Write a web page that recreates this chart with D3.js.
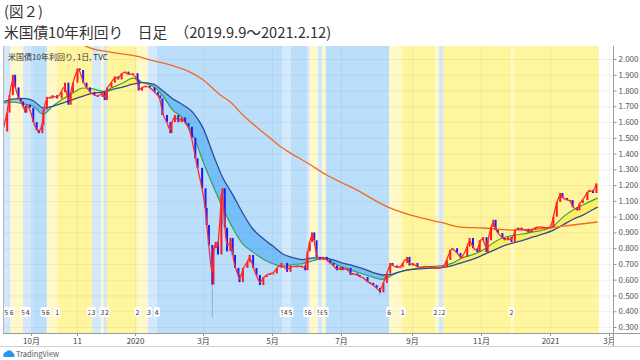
<!DOCTYPE html>
<html>
<head>
<meta charset="utf-8">
<script src="https://cdn.jsdelivr.net/npm/d3@7"></script>
<style>
body{margin:0;background:#fff}
svg{display:block}
text{font-family:"Noto Sans CJK JP","Noto Sans",sans-serif}
</style>
</head>
<body>
<script>
// daily closes (date, yield %)
const closes = [
 ["2019-09-06",1.54],["2019-09-10",1.66],["2019-09-12",1.77],["2019-09-15",1.90],["2019-09-17",1.82],["2019-09-20",1.75],
 ["2019-09-22",1.73],["2019-09-24",1.70],["2019-09-26",1.66],["2019-09-27",1.71],["2019-09-30",1.69],["2019-10-03",1.60],
 ["2019-10-06",1.55],["2019-10-08",1.53],["2019-10-11",1.58],["2019-10-12",1.68],["2019-10-15",1.76],["2019-10-18",1.75],
 ["2019-10-20",1.77],["2019-10-24",1.75],["2019-10-28",1.79],["2019-10-31",1.85],["2019-11-03",1.71],["2019-11-05",1.79],
 ["2019-11-07",1.85],["2019-11-11",1.94],["2019-11-13",1.93],["2019-11-16",1.85],["2019-11-19",1.82],["2019-11-22",1.79],
 ["2019-11-26",1.77],["2019-11-29",1.76],["2019-12-03",1.79],["2019-12-05",1.74],["2019-12-07",1.82],["2019-12-11",1.85],
 ["2019-12-14",1.89],["2019-12-17",1.87],["2019-12-20",1.91],["2019-12-23",1.92],["2019-12-26",1.90],["2019-12-30",1.91],
 ["2020-01-03",1.87],["2020-01-04",1.80],["2020-01-07",1.82],["2020-01-10",1.83],["2020-01-14",1.82],["2020-01-18",1.79],
 ["2020-01-21",1.77],["2020-01-23",1.75],["2020-01-25",1.645],["2020-01-29",1.60],["2020-02-01",1.53],["2020-02-02",1.60],
 ["2020-02-05",1.645],["2020-02-08",1.60],["2020-02-11",1.63],["2020-02-14",1.594],["2020-02-17",1.57],["2020-02-20",1.50],
 ["2020-02-23",1.37],["2020-02-25",1.31],["2020-02-29",1.18],["2020-03-03",1.055],["2020-03-04",0.947],["2020-03-06",0.82],
 ["2020-03-09",0.57],["2020-03-10",0.80],["2020-03-12",0.84],["2020-03-14",0.76],["2020-03-17",1.14],["2020-03-18",1.18],
 ["2020-03-20",0.93],["2020-03-22",0.78],["2020-03-25",0.865],["2020-03-27",0.757],["2020-03-29",0.675],["2020-04-01",0.63],
 ["2020-04-02",0.585],["2020-04-05",0.675],["2020-04-09",0.71],["2020-04-11",0.757],["2020-04-14",0.675],["2020-04-17",0.63],
 ["2020-04-20",0.566],["2020-04-23",0.617],["2020-04-26",0.63],["2020-04-29",0.64],["2020-05-02",0.64],["2020-05-05",0.675],
 ["2020-05-09",0.706],["2020-05-14",0.65],["2020-05-17",0.69],["2020-05-23",0.68],["2020-05-27",0.69],["2020-05-30",0.66],
 ["2020-06-01",0.78],["2020-06-03",0.84],["2020-06-05",0.90],["2020-06-07",0.85],["2020-06-09",0.745],["2020-06-12",0.725],
 ["2020-06-15",0.745],["2020-06-18",0.725],["2020-06-21",0.706],["2020-06-24",0.69],["2020-06-27",0.66],["2020-06-30",0.68],
 ["2020-07-02",0.66],["2020-07-06",0.675],["2020-07-09",0.63],["2020-07-11",0.64],["2020-07-15",0.63],["2020-07-17",0.617],
 ["2020-07-20",0.617],["2020-07-24",0.585],["2020-07-26",0.58],["2020-07-29",0.566],["2020-08-01",0.547],["2020-08-04",0.52],
 ["2020-08-07",0.58],["2020-08-10",0.64],["2020-08-13",0.706],["2020-08-15",0.69],["2020-08-19",0.675],["2020-08-22",0.68],
 ["2020-08-24",0.706],["2020-08-28",0.745],["2020-08-30",0.69],["2020-09-02",0.706],["2020-09-06",0.68],["2020-09-08",0.68],
 ["2020-09-11",0.68],["2020-09-14",0.687],["2020-09-17",0.68],["2020-09-20",0.675],["2020-09-23",0.675],["2020-09-26",0.675],
 ["2020-09-29",0.68],["2020-10-02",0.725],["2020-10-05",0.79],["2020-10-07",0.80],["2020-10-11",0.77],["2020-10-14",0.74],
 ["2020-10-16",0.745],["2020-10-20",0.81],["2020-10-22",0.865],["2020-10-25",0.80],["2020-10-29",0.776],["2020-10-31",0.85],
 ["2020-11-03",0.87],["2020-11-06",0.776],["2020-11-07",0.85],["2020-11-10",0.934],["2020-11-12",0.98],["2020-11-14",0.915],
 ["2020-11-16",0.896],["2020-11-20",0.865],["2020-11-22",0.85],["2020-11-25",0.87],["2020-11-28",0.84],["2020-12-01",0.915],
 ["2020-12-04",0.93],["2020-12-07",0.915],["2020-12-10",0.92],["2020-12-13",0.90],["2020-12-16",0.915],["2020-12-19",0.93],
 ["2020-12-21",0.934],["2020-12-25",0.934],["2020-12-28",0.93],["2020-12-30",0.93],["2021-01-02",0.934],["2021-01-04",1.00],
 ["2021-01-07",1.093],["2021-01-10",1.15],["2021-01-12",1.118],["2021-01-16",1.105],["2021-01-19",1.105],["2021-01-21",1.06],
 ["2021-01-25",1.04],["2021-01-27",1.086],["2021-01-30",1.105],["2021-02-03",1.157],["2021-02-05",1.17],["2021-02-08",1.15],
 ["2021-02-11",1.21]
];

// a few long wicks (date, high, low)
const wicks = [["2020-03-09",0.80,0.36],["2020-03-18",1.19,0.95],["2020-08-04",0.56,0.50]];

// moving averages (shared dates)
const maDates = ["2019-09-06","2019-09-15","2019-09-24","2019-10-03","2019-10-12","2019-10-20","2019-10-29","2019-11-07",
 "2019-11-16","2019-11-25","2019-12-04","2019-12-12","2019-12-21","2019-12-30","2020-01-08","2020-01-17","2020-01-25",
 "2020-02-03","2020-02-12","2020-02-21","2020-03-01","2020-03-10","2020-03-18","2020-03-27","2020-04-05","2020-04-14",
 "2020-04-23","2020-05-02","2020-05-10","2020-05-19","2020-05-28","2020-06-06","2020-06-15","2020-06-24","2020-07-02",
 "2020-07-11","2020-07-20","2020-07-29","2020-08-07","2020-08-15","2020-08-24","2020-09-02","2020-09-11","2020-09-20",
 "2020-09-29","2020-10-07","2020-10-16","2020-10-25","2020-11-03","2020-11-12","2020-11-21","2020-11-29","2020-12-08",
 "2020-12-17","2020-12-26","2021-01-04","2021-01-13","2021-01-21","2021-01-30","2021-02-08","2021-02-12"];
const greenMA = [1.72,1.727,1.715,1.70,1.65,1.70,1.745,1.785,1.816,1.81,1.795,1.82,1.848,1.879,1.85,1.825,1.77,
 1.676,1.625,1.518,1.347,1.19,1.06,0.928,0.825,0.775,0.73,0.70,0.685,0.695,0.703,0.72,0.735,0.706,0.68,
 0.656,0.636,0.615,0.602,0.63,0.655,0.668,0.678,0.685,0.69,0.705,0.74,0.76,0.788,0.835,0.868,0.88,0.89,
 0.903,0.915,0.94,1.0,1.04,1.074,1.105,1.118];
const navyMA = [1.727,1.745,1.75,1.735,1.69,1.70,1.72,1.742,1.765,1.784,1.79,1.807,1.822,1.84,1.85,1.84,1.80,
 1.748,1.71,1.66,1.56,1.39,1.25,1.14,1.02,0.92,0.86,0.81,0.765,0.74,0.728,0.738,0.738,0.725,0.705,
 0.69,0.67,0.645,0.63,0.636,0.655,0.665,0.67,0.674,0.679,0.69,0.71,0.73,0.757,0.786,0.815,0.832,0.85,
 0.871,0.89,0.915,0.95,0.982,1.01,1.045,1.061];

// long moving average (orange)
const longMA = [["2019-11-13",2.10],["2019-11-22",2.07],["2019-12-10",2.044],["2020-01-05",2.013],["2020-01-14",1.994],
 ["2020-02-01",1.962],["2020-02-18",1.918],["2020-03-01",1.867],["2020-03-16",1.772],["2020-03-25",1.727],["2020-04-05",1.645],
 ["2020-04-17",1.569],["2020-04-29",1.499],["2020-05-10",1.435],["2020-05-23",1.378],["2020-06-01",1.34],["2020-06-18",1.264],
 ["2020-06-30",1.22],["2020-07-11",1.182],["2020-08-11",1.061],["2020-09-06",0.998],["2020-09-29",0.96],["2020-10-14",0.934],
 ["2020-11-03",0.928],["2020-11-28",0.915],["2021-01-01",0.928],["2021-01-21",0.947],["2021-02-12",0.966]];

// background state bands: start dates and kinds (b = blue, lb = light blue, y = yellow, ly = light yellow)
const bandStarts = ["2019-09-04","2019-09-13","2019-09-24","2019-10-02","2019-10-15","2019-10-24","2019-11-24","2019-12-02",
 "2019-12-04","2019-12-07","2020-01-03","2020-01-12","2020-01-20","2020-05-10","2020-05-17","2020-06-01","2020-06-03",
 "2020-06-10","2020-06-14","2020-06-17","2020-08-12","2020-08-23","2020-09-22","2020-09-25","2020-09-29","2020-11-28",
 "2020-11-30"];
const bandKinds = ["lb","ly","lb","b","ly","y","lb","ly","lb","y","ly","lb","b","lb","b","lb","ly","lb","ly","b","ly","y",
 "ly","lb","y","ly","y"];
const bandEnd = "2021-02-13";

// small numbered markers at the bottom
const markerDates = ["2019-09-09","2019-09-14","2019-09-24","2019-09-28","2019-10-12","2019-10-16","2019-10-24","2019-11-22",
 "2019-11-25","2019-12-03","2019-12-07","2020-01-03","2020-01-13","2020-01-20","2020-05-10","2020-05-13","2020-05-17",
 "2020-05-31","2020-06-03","2020-06-11","2020-06-14","2020-06-17","2020-08-12","2020-08-24","2020-09-22","2020-09-26",
 "2020-09-29","2020-11-28"];
const markerLabels = ["5","6","5","4","5","6","1","2","3","3","2","2","3","4","5","4","5","5","6","5","6","5","6","1","2",
 "3","2","2"];

const tickDates = ["2019-10-01","2019-11-11","2020-01-01","2020-03-01","2020-05-01","2020-07-01","2020-09-01","2020-11-01",
 "2021-01-01","2021-02-22"];
const tickLabels = ["10月","11","2020","3月","5月","7月","9月","11月","2021","3月"];
const yTicks = [0.3,0.4,0.5,0.6,0.7,0.8,0.9,1.0,1.1,1.2,1.3,1.4,1.5,1.6,1.7,1.8,1.9,2.0];

const parse = d3.timeParse("%Y-%m-%d");
const W = 640, H = 360;
const pl = 3, pr = 613, pt = 46, pb = 333;

const svg = d3.select("body").append("svg").attr("width", W).attr("height", H);

svg.append("text").attr("x", 4).attr("y", 17).attr("font-size", 14.5).attr("fill", "#333").text("(図２)");
svg.append("text").attr("x", 4).attr("y", 38).attr("font-size", 14.7).attr("fill", "#333")
    .text("米国債10年利回り　日足　（2019.9.9～2021.2.12)");

const x = d3.scaleTime().domain([parse("2019-10-01"), parse("2021-01-01")]).range([31, 550]);
const y = d3.scaleLinear().domain([0.3, 2.0]).range([327, 59]);

svg.append("clipPath").attr("id", "plot").append("rect")
    .attr("x", pl).attr("y", pt).attr("width", pr - pl).attr("height", pb - pt);
const g = svg.append("g").attr("clip-path", "url(#plot)");

// bands
const bandColor = {b: "#bbdefb", lb: "#d3e8fb", y: "#fff59d", ly: "#fff9c9"};
const bands = bandStarts.map(function(s, i){
    return {s: parse(s), e: parse(i < bandStarts.length - 1 ? bandStarts[i + 1] : bandEnd), k: bandKinds[i]};
});
g.selectAll("rect.band").data(bands).enter().append("rect")
    .attr("x", d => x(d.s)).attr("y", pt)
    .attr("width", d => x(d.e) - x(d.s)).attr("height", pb - pt)
    .attr("fill", d => bandColor[d.k]);

// grid
g.selectAll("line.hg").data(yTicks).enter().append("line")
    .attr("x1", pl).attr("x2", pr).attr("y1", d => y(d) + 0.5).attr("y2", d => y(d) + 0.5)
    .attr("stroke", "rgba(90,110,140,0.09)");
g.selectAll("line.vg").data(tickDates).enter().append("line")
    .attr("x1", d => Math.round(x(parse(d))) + 0.5).attr("x2", d => Math.round(x(parse(d))) + 0.5)
    .attr("y1", pt).attr("y2", pb).attr("stroke", "rgba(90,110,140,0.09)");

// ribbon between the two moving averages
const ma = maDates.map((d, i) => ({date: parse(d), g: greenMA[i], n: navyMA[i]}));
g.append("path").datum(ma)
    .attr("fill", "rgba(33,150,243,0.45)")
    .attr("d", d3.area().curve(d3.curveMonotoneX).x(d => x(d.date))
        .y0(d => y(d.g)).y1(d => y(Math.max(d.g, d.n))));
g.append("path").datum(ma)
    .attr("fill", "rgba(255,230,40,0.5)")
    .attr("d", d3.area().curve(d3.curveMonotoneX).x(d => x(d.date))
        .y0(d => y(d.n)).y1(d => y(Math.max(d.g, d.n))));

g.append("path").datum(ma).attr("fill", "none").attr("stroke", "#3d9f4f").attr("stroke-width", 1.2)
    .attr("d", d3.line().curve(d3.curveMonotoneX).x(d => x(d.date)).y(d => y(d.g)));
g.append("path").datum(ma).attr("fill", "none").attr("stroke", "#2d4c9c").attr("stroke-width", 1.3)
    .attr("d", d3.line().curve(d3.curveMonotoneX).x(d => x(d.date)).y(d => y(d.n)));

// orange long average
g.append("path").datum(longMA).attr("fill", "none").attr("stroke", "#f26a1b").attr("stroke-width", 1.3)
    .attr("d", d3.line().curve(d3.curveMonotoneX).x(d => x(parse(d[0]))).y(d => y(d[1])));

// candles: each body runs from the previous close to this close
const candles = closes.map(function(c, i){
    const open = i > 0 ? closes[i - 1][1] : c[1];
    return {date: parse(c[0]), open: open, close: c[1]};
});
g.selectAll("line.wick").data(wicks).enter().append("line")
    .attr("x1", d => x(parse(d[0]))).attr("x2", d => x(parse(d[0])))
    .attr("y1", d => y(d[1])).attr("y2", d => y(d[2]))
    .attr("stroke", "#9aa9cc").attr("stroke-width", 1);
g.selectAll("rect.candle").data(candles).enter().append("rect")
    .attr("x", d => x(d.date) - 1)
    .attr("y", d => y(Math.max(d.open, d.close)))
    .attr("width", 2)
    .attr("height", d => Math.max(1, Math.abs(y(d.open) - y(d.close))))
    .attr("fill", d => d.close >= d.open ? "#ff1a1a" : "#1a1aff");

// short average (red)
g.append("path").datum(candles).attr("fill", "none").attr("stroke", "#ff2a2a").attr("stroke-width", 1.3)
    .attr("d", d3.line().curve(d3.curveBasis).x(d => x(d.date)).y(d => y(d.close)));

// markers
const mk = g.selectAll("g.mk").data(markerDates).enter().append("g")
    .attr("transform", d => "translate(" + x(parse(d)) + ",312)");
mk.append("rect").attr("x", -3).attr("y", -5).attr("width", 6).attr("height", 10).attr("rx", 1.5)
    .attr("fill", "#fff");
mk.append("text").attr("y", 2.6).attr("text-anchor", "middle").attr("font-size", 7).attr("fill", "#333")
    .text((d, i) => markerLabels[i]);

g.append("text").attr("x", 8).attr("y", 60).attr("font-size", 8).attr("fill", "#333")
    .text("米国債10年利回り, 1日, TVC");

// frame
svg.append("line").attr("x1", pl + 0.5).attr("x2", pl + 0.5).attr("y1", pt).attr("y2", pb).attr("stroke", "#b5b5b5");
svg.append("line").attr("x1", pl).attr("x2", W).attr("y1", pb + 0.5).attr("y2", pb + 0.5).attr("stroke", "#9a9a9a");
svg.append("line").attr("x1", pr + 0.5).attr("x2", pr + 0.5).attr("y1", pt).attr("y2", 346).attr("stroke", "#9a9a9a");
svg.append("line").attr("x1", 0).attr("x2", W).attr("y1", 346.5).attr("y2", 346.5).attr("stroke", "#d0d0d0");

// right axis
const ya = svg.append("g").attr("transform", "translate(" + (pr + 0.5) + ",0)")
    .call(d3.axisRight(y).tickValues(yTicks).tickFormat(d3.format(".3f")).tickSize(3).tickPadding(2));
ya.select(".domain").remove();
ya.selectAll("line").attr("stroke", "#999");
ya.selectAll("text").attr("font-size", 8).attr("fill", "#555").attr("font-family", "'Noto Sans',sans-serif");

// bottom axis
svg.append("clipPath").attr("id", "xaxis").append("rect").attr("x", 0).attr("y", pb).attr("width", pr).attr("height", 14);
const xa = svg.append("g").attr("clip-path", "url(#xaxis)");
const xt = xa.selectAll("g").data(tickDates).enter().append("g")
    .attr("transform", d => "translate(" + (Math.round(x(parse(d))) + 0.5) + "," + pb + ")");
xt.append("line").attr("y1", 0).attr("y2", 3).attr("stroke", "#999");
xt.append("text").attr("y", 11).attr("text-anchor", "middle").attr("font-size", 8).attr("fill", "#444")
    .text((d, i) => tickLabels[i]);

// TradingView mark
const tv = svg.append("g").attr("transform", "translate(3,349)");
tv.append("path").attr("fill", "#2196f3")
    .attr("d", "M1,8 a3,3 0 0 1 2,-5 a4,4 0 0 1 7,1 a2.5,2.5 0 0 1 1,4 z");
tv.append("text").attr("x", 13).attr("y", 8).attr("font-size", 7.5).attr("fill", "#555").text("TradingView");
</script>
</body>
</html>
